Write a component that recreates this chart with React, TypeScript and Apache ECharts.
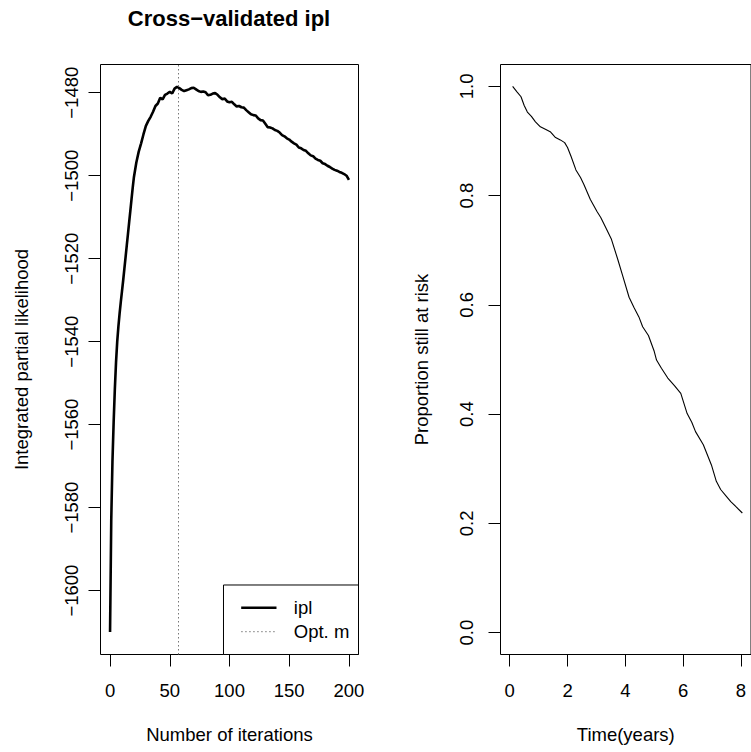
import React, { useEffect, useRef } from "react";
import * as echarts from "echarts";

// ---- Left panel: cross-validated integrated partial likelihood ----
const iplIter = [
  0, 1, 2, 3, 4, 5, 6, 7, 8, 9, 10, 11, 12, 13, 14, 15, 16, 17, 18, 19, 20,
  22, 24, 26, 28, 30, 32, 34, 36, 38, 40, 42, 44, 46, 48, 50, 52, 54, 56, 58,
  60, 62, 64, 66, 68, 70, 72, 74, 76, 78, 80, 82, 84, 86, 88, 90, 92, 94, 96,
  98, 100, 102, 104, 106, 108, 110, 112, 114, 116, 118, 120, 122, 124, 126,
  128, 130, 132, 134, 136, 138, 140, 142, 144, 146, 148, 150, 152, 154, 156,
  158, 160, 162, 164, 166, 168, 170, 172, 174, 176, 178, 180, 182, 184, 186,
  188, 190, 192, 194, 196, 198, 200,
];
const iplValue = [
  -1610, -1583, -1569, -1559.5, -1551.5, -1545, -1540, -1536.3, -1533.2,
  -1530.4, -1527.8, -1525.2, -1522.4, -1519.6, -1516.8, -1514, -1511.2,
  -1508.4, -1505.6, -1502.8, -1500.3, -1496.8, -1494.2, -1492.2, -1490,
  -1488, -1486.8, -1485.8, -1484.6, -1483.2, -1482.6, -1481.2, -1481.6,
  -1480.5, -1480.2, -1479.8, -1480.2, -1479, -1478.6, -1478.9, -1479.3,
  -1479.6, -1479.4, -1479.2, -1478.9, -1478.8, -1479.2, -1479.6, -1479.8,
  -1479.7, -1479.9, -1480.6, -1480.5, -1480.2, -1480.1, -1480.5, -1481.1,
  -1481.6, -1481.4, -1482.1, -1482.3, -1482.2, -1482.8, -1483.3, -1483.2,
  -1483.5, -1483.6, -1484.2, -1484.7, -1485.2, -1485.4, -1485.5, -1486.2,
  -1486.6, -1486.7, -1487.5, -1488.3, -1488.4, -1488.6, -1489, -1489.2,
  -1489.6, -1490.2, -1490.5, -1491, -1491.3, -1491.8, -1492.2, -1492.5,
  -1493.2, -1493.4, -1493.8, -1494, -1494.6, -1495.1, -1495.3, -1495.9,
  -1496.2, -1496.4, -1497, -1497.2, -1497.6, -1497.9, -1498.3, -1498.6,
  -1498.8, -1499.1, -1499.3, -1499.6, -1500, -1501,
];
const optM = 57;
const iterTicks = [0, 50, 100, 150, 200];
const iplTicks = [-1600, -1580, -1560, -1540, -1520, -1500, -1480];

// ---- Right panel: proportion still at risk ----
const timeYears = [
  0.1, 0.25, 0.39, 0.5, 0.61, 0.75, 0.89, 1.06, 1.25, 1.4, 1.57, 1.75, 1.9,
  2.0, 2.12, 2.29, 2.45, 2.57, 2.79, 3.02, 3.15, 3.3, 3.52, 3.74, 3.91, 4.13,
  4.3, 4.47, 4.6, 4.8, 5.0, 5.08, 5.25, 5.47, 5.7, 5.92, 6.14, 6.3, 6.43, 6.7,
  6.98, 7.15, 7.3, 7.49, 7.65, 7.82, 8.05,
];
const propAtRisk = [
  1.0, 0.99, 0.981, 0.965, 0.953, 0.945, 0.935, 0.926, 0.921, 0.917, 0.907,
  0.902, 0.897, 0.888, 0.872, 0.847, 0.833, 0.82, 0.793, 0.771, 0.76, 0.744,
  0.72, 0.683, 0.653, 0.614, 0.595, 0.578, 0.56, 0.544, 0.515, 0.499, 0.484,
  0.466, 0.452, 0.438, 0.401, 0.385, 0.368, 0.344, 0.307, 0.277, 0.262, 0.25,
  0.24, 0.231, 0.219,
];
const timeTicks = [0, 2, 4, 6, 8];
const propTicks = [0, 0.2, 0.4, 0.6, 0.8, 1.0];

const FONT = "'Liberation Sans', Arial, Helvetica, sans-serif";
const FS = 18.5;

export default function App() {
  const ref = useRef<HTMLDivElement>(null);

  useEffect(() => {
    const chart = echarts.init(ref.current!, null, { renderer: "svg" });
    const txt = { color: "#000", fontSize: FS, fontFamily: FONT };
    const tick = (vals: number[]) => ({
      show: true,
      inside: false,
      length: 12,
      customValues: vals,
      lineStyle: { color: "#000", width: 1 },
    });
    const noLine = { show: false, onZero: false };
    const minus = (v: number) => String(v).replace("-", "\u2212");

    chart.setOption({
      animation: false,
      backgroundColor: "#fff",
      grid: [
        { left: 100.5, top: 64.5, width: 258, height: 590, show: true, borderColor: "#000", borderWidth: 1 },
        { left: 500.5, top: 64.5, width: 258, height: 590, show: true, borderColor: "#000", borderWidth: 1 },
      ],
      xAxis: [
        {
          type: "value", gridIndex: 0, min: -8, max: 208,
          axisLine: noLine, splitLine: { show: false },
          axisTick: tick(iterTicks),
          axisLabel: { ...txt, customValues: iterTicks, margin: 26.5 },
          name: "Number of iterations", nameLocation: "middle", nameGap: 70.8,
          nameTextStyle: txt,
        },
        {
          type: "value", gridIndex: 1, min: -0.32, max: 8.35,
          axisLine: noLine, splitLine: { show: false },
          axisTick: tick(timeTicks),
          axisLabel: { ...txt, customValues: timeTicks, margin: 26.5 },
          name: "Time(years)", nameLocation: "middle", nameGap: 70.8,
          nameTextStyle: txt,
        },
      ],
      yAxis: [
        {
          type: "value", gridIndex: 0, min: -1615.4, max: -1473.2,
          axisLine: noLine, splitLine: { show: false },
          axisTick: tick(iplTicks),
          axisLabel: { ...txt, customValues: iplTicks, margin: 20, rotate: 90, formatter: minus },
          name: "Integrated partial likelihood", nameLocation: "middle", nameGap: 70,
          nameTextStyle: txt,
        },
        {
          type: "value", gridIndex: 1, min: -0.04, max: 1.04,
          axisLine: noLine, splitLine: { show: false },
          axisTick: tick(propTicks),
          axisLabel: { ...txt, customValues: propTicks, margin: 25, rotate: 90, formatter: (v: number) => v.toFixed(1) },
          name: "Proportion still at risk", nameLocation: "middle", nameGap: 69.5,
          nameTextStyle: txt,
        },
      ],
      legend: {
        right: 751 - 358.5,
        bottom: 752 - 654.5,
        orient: "vertical",
        backgroundColor: "#fff",
        borderColor: "#000",
        borderWidth: 1,
        borderRadius: 0,
        padding: [13.3, 9.2, 13.3, 16.4],
        itemGap: 4.9,
        itemWidth: 35.3,
        itemHeight: 14,
        itemStyle: { opacity: 0 },
        textStyle: { ...txt, padding: [0, 0, 0, 12.3] },
        data: [
          { name: "ipl", lineStyle: { width: 2.6, color: "#000", type: "solid" } },
          { name: "Opt. m", lineStyle: { width: 1, color: "#777", type: [1.5, 2.5] } },
        ],
      },
      graphic: [
        {
          type: "text",
          x: 229,
          y: 18,
          style: {
            text: "Cross\u2212validated ipl",
            fill: "#000",
            fontSize: 22,
            fontWeight: "bold",
            fontFamily: FONT,
            align: "center",
            verticalAlign: "middle",
          },
        },
      ],
      series: [
        {
          name: "ipl",
          type: "line",
          xAxisIndex: 0,
          yAxisIndex: 0,
          data: iplIter.map((x, i) => [x, iplValue[i]]),
          symbol: "none",
          showSymbol: false,
          lineStyle: { color: "#000", width: 2.6 },
          itemStyle: { color: "#000" },
          z: 3,
        },
        {
          name: "Opt. m",
          type: "line",
          xAxisIndex: 0,
          yAxisIndex: 0,
          data: [],
          symbol: "none",
          lineStyle: { color: "#777", width: 1, type: [1.5, 2.5] },
          itemStyle: { color: "#777" },
          markLine: {
            silent: true,
            symbol: "none",
            label: { show: false },
            lineStyle: { color: "#777", width: 1, type: [1.5, 2.5] },
            data: [{ xAxis: optM }],
          },
          z: 2,
        },
        {
          name: "risk",
          type: "line",
          xAxisIndex: 1,
          yAxisIndex: 1,
          data: timeYears.map((t, i) => [t, propAtRisk[i]]),
          symbol: "none",
          showSymbol: false,
          lineStyle: { color: "#000", width: 1.1 },
          itemStyle: { color: "#000" },
        },
      ],
    });
    return () => chart.dispose();
  }, []);

  return (
    <div
      ref={ref}
      style={{ position: "absolute", left: 0, top: 0, width: 751, height: 752, overflow: "hidden" }}
    />
  );
}
